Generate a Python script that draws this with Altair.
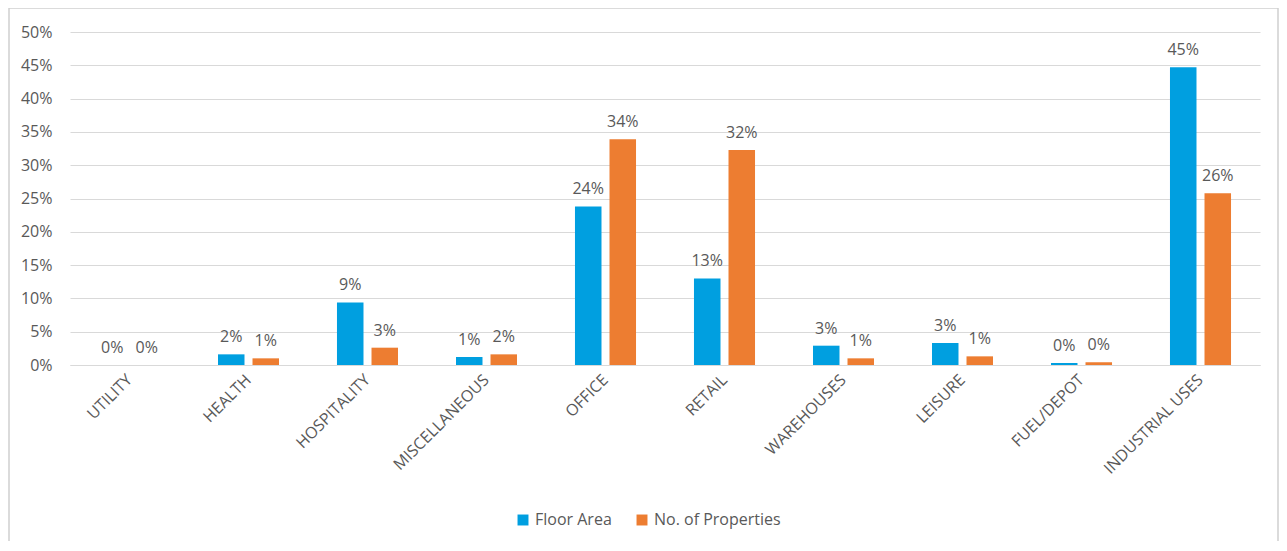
import altair as alt
import pandas as pd

categories = ["UTILITY", "HEALTH", "HOSPITALITY", "MISCELLANEOUS", "OFFICE",
              "RETAIL", "WAREHOUSES", "LEISURE", "FUEL/DEPOT", "INDUSTRIAL USES"]
floor_area = [0.0, 1.6, 9.4, 1.2, 23.8, 13.0, 2.9, 3.3, 0.3, 44.7]
no_properties = [0.0, 1.0, 2.6, 1.6, 33.9, 32.3, 1.0, 1.3, 0.4, 25.8]
series = ["Floor Area", "No. of Properties"]
colors = ["#009FE0", "#ED7D31"]
y_ticks = [0, 5, 10, 15, 20, 25, 30, 35, 40, 45, 50]

rows = []
for i, c in enumerate(categories):
    rows.append({"category": c, "series": series[0], "value": floor_area[i]})
    rows.append({"category": c, "series": series[1], "value": no_properties[i]})
df = pd.DataFrame(rows)

FONT = "Open Sans"

x = alt.X("category:N", sort=categories, title=None,
          scale=alt.Scale(paddingInner=0.487, paddingOuter=0.2435),
          axis=alt.Axis(labelAngle=-45, labelAlign="right", labelBaseline="middle",
                        labelFontSize=16, labelColor="#595959", labelFont=FONT,
                        ticks=False, domainColor="#d9d9d9", labelPadding=12,
                        labelOverlap=False, labelLimit=300))
xoff = alt.XOffset("series:N", sort=series,
                   scale=alt.Scale(paddingInner=0.232, paddingOuter=0))
y = alt.Y("value:Q", title=None,
          scale=alt.Scale(domain=[0, 50], nice=False),
          axis=alt.Axis(values=y_ticks, labelExpr="datum.value + '%'",
                        labelFontSize=16, labelColor="#595959", labelFont=FONT,
                        ticks=False, domain=False, gridColor="#d9d9d9",
                        labelPadding=18, labelOverlap=False))
color = alt.Color("series:N", sort=series,
                  scale=alt.Scale(domain=series, range=colors),
                  legend=alt.Legend(title=None, orient="none", direction="horizontal",
                                    legendX=445, legendY=480, symbolType="square",
                                    symbolSize=120, labelFontSize=16, labelFont=FONT,
                                    labelColor="#595959", columnPadding=22,
                                    symbolStrokeWidth=0))

bars = alt.Chart(df).mark_bar().encode(x=x, xOffset=xoff, y=y, color=color)

labels = alt.Chart(df).transform_calculate(
    lbl="format(datum.value, '.0f') + '%'"
).mark_text(baseline="alphabetic", dy=-12, fontSize=16, font=FONT, color="#595959").encode(
    x=x, xOffset=xoff, y=y, text="lbl:N",
)

border = alt.Chart(pd.DataFrame({"a": [0]})).mark_rect(
    fill="transparent", stroke="#d0d0d0", strokeWidth=1.5, clip=False
).encode(x=alt.value(-61), x2=alt.value(1208), y=alt.value(-24), y2=alt.value(520))

chart = alt.layer(bars, labels, border).properties(
    width=1190, height=333,
    autosize=alt.AutoSizeParams(type="none"),
    padding={"left": 62, "top": 24, "right": 19, "bottom": 176},
).configure_view(stroke=None)

chart.save("out.html", embed_options={"renderer": "svg", "actions": False})
